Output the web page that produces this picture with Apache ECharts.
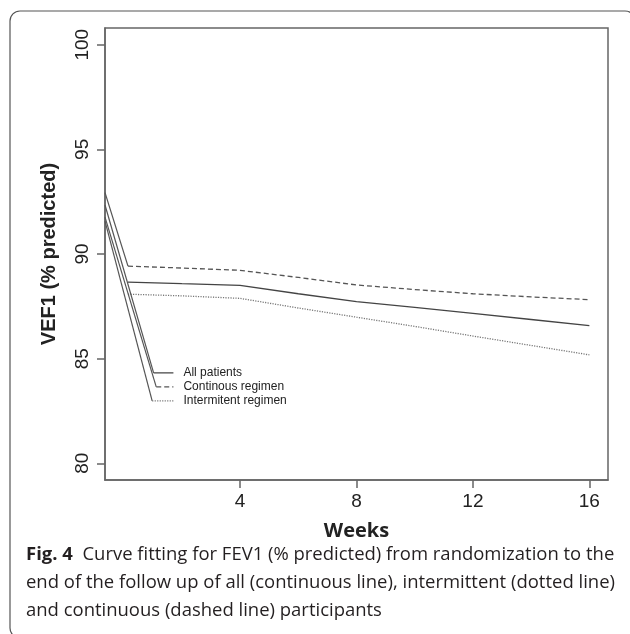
<!DOCTYPE html>
<html>
<head>
<meta charset="utf-8">
<script src="https://cdn.jsdelivr.net/npm/echarts@6/dist/echarts.min.js"></script>
<style>
  html, body { margin: 0; padding: 0; background: #fff; }
  #chart { width: 630px; height: 634px; }
</style>
</head>
<body>
<div id="chart"></div>
<script>
// weeks of follow up and fitted FEV1 (% predicted)
var weeks = [0.15, 2, 4, 6, 8, 10, 12, 14, 16];
var allPatients = [88.66, 88.58, 88.50, 88.10, 87.72, 87.45, 87.16, 86.87, 86.58];
var continuous = [89.42, 89.33, 89.22, 88.88, 88.52, 88.30, 88.10, 87.95, 87.82];
var intermittent = [88.08, 88.00, 87.88, 87.42, 86.98, 86.54, 86.08, 85.63, 85.18];

var xTicks = [4, 8, 12, 16];
var yTicks = [80, 85, 90, 95, 100];

// legend keys drawn inside the plot (week start, week end, level)
var legendNames = ['All patients', 'Continous regimen', 'Intermitent regimen'];
var legendKeyStart = [1.03, 1.12, 0.98];
var legendKeyEnd = [1.71, 1.71, 1.71];
var legendKeyLevel = [84.32, 83.65, 82.98];

// the stray leader lines from the y axis (start levels at the axis)
var leaderStart = [92.34, 91.76, 91.57];
var dashedLeaderStart = 92.93;

var xMin = -0.64, xMax = 16.64;
var yMin = 79.2, yMax = 100.8;

var caption1 = 'Curve fitting for FEV1 (% predicted) from randomization to the';
var caption2 = 'end of the follow up of all (continuous line), intermittent (dotted line)';
var caption3 = 'and continuous (dashed line) participants';

function pairs(xs, ys) {
    return xs.map(function (x, i) { return [x, ys[i]]; });
}

// size the caption font so the second line spans the figure width
var captionFont = '"Open Sans", "Noto Sans", sans-serif';
var ctx = document.createElement('canvas').getContext('2d');
ctx.font = '100px ' + captionFont;
var captionSize = 100 * 589 / ctx.measureText(caption2).width;

var axisFont = 'Liberation Sans, Arial, sans-serif';

var chart = echarts.init(document.getElementById('chart'));

var lineStyles = [
    { color: '#444', width: 1.3, type: 'solid' },
    { color: '#555', width: 1.3, type: [5, 3] },
    { color: '#777', width: 1.3, type: [1.2, 1.3] }
];

var series = [];
var curves = [allPatients, continuous, intermittent];
curves.forEach(function (vals, i) {
    series.push({
        name: legendNames[i],
        type: 'line',
        data: pairs(weeks, vals),
        showSymbol: false,
        symbol: 'none',
        lineStyle: lineStyles[i],
        silent: true
    });
});

// leader from the axis to the start of the continuous curve
series.push({
    type: 'line',
    data: [[xMin, dashedLeaderStart], [weeks[0], continuous[0]]],
    symbol: 'none',
    lineStyle: { color: '#555', width: 1.2 },
    silent: true
});

legendNames.forEach(function (name, i) {
    // leader from the axis down to the legend key
    series.push({
        type: 'line',
        data: [[xMin, leaderStart[i]], [legendKeyStart[i], legendKeyLevel[i]]],
        symbol: 'none',
        lineStyle: { color: '#555', width: 1.2 },
        silent: true
    });
    // legend key with its text
    series.push({
        type: 'line',
        data: [[legendKeyStart[i], legendKeyLevel[i]], [legendKeyEnd[i], legendKeyLevel[i]]],
        symbol: 'none',
        lineStyle: lineStyles[i],
        endLabel: {
            show: true,
            formatter: name,
            distance: 10,
            fontSize: 12,
            fontFamily: axisFont,
            color: '#222'
        },
        silent: true
    });
});

var option = {
    animation: false,
    backgroundColor: '#fff',
    grid: {
        left: 105,
        right: 22,
        top: 28,
        bottom: 154,
        show: true,
        borderColor: '#666',
        borderWidth: 1.5
    },
    xAxis: {
        type: 'value',
        min: xMin,
        max: xMax,
        name: 'Weeks',
        nameLocation: 'middle',
        nameGap: 41,
        nameTextStyle: { fontSize: 20, fontWeight: 'bold', color: '#222', fontFamily: captionFont },
        axisLine: { show: true, onZero: false, lineStyle: { color: '#666', width: 1.5 } },
        axisTick: { show: true, customValues: xTicks, length: 8, lineStyle: { color: '#666', width: 1.5 } },
        axisLabel: { customValues: xTicks, margin: 12, fontSize: 19, color: '#222', fontFamily: axisFont },
        splitLine: { show: false }
    },
    yAxis: {
        type: 'value',
        min: yMin,
        max: yMax,
        name: 'VEF1 (% predicted)',
        nameLocation: 'middle',
        nameRotate: 90,
        nameGap: 46,
        nameTextStyle: { fontSize: 20, fontWeight: 'bold', color: '#222', fontFamily: axisFont },
        axisLine: { show: true, onZero: false, lineStyle: { color: '#666', width: 1.5 } },
        axisTick: { show: true, customValues: yTicks, length: 8, lineStyle: { color: '#666', width: 1.5 } },
        axisLabel: { customValues: yTicks, rotate: 90, margin: 13, fontSize: 19, color: '#222', fontFamily: axisFont },
        splitLine: { show: false }
    },
    graphic: [
        {
            type: 'rect',
            shape: { x: 10, y: 11, width: 625, height: 627, r: 10 },
            style: { fill: 'none', stroke: '#555', lineWidth: 1.2 },
            silent: true
        },
        {
            type: 'text',
            style: {
                x: 26, y: 555,
                text: '{b|Fig. 4}  ' + caption1,
                verticalAlign: 'middle',
                fontSize: captionSize,
                fontFamily: captionFont,
                fill: '#231f20',
                rich: {
                    b: { fontWeight: 'bold', fontSize: captionSize, fontFamily: captionFont, fill: '#231f20' }
                }
            }
        },
        {
            type: 'text',
            style: { x: 26, y: 583, text: caption2, verticalAlign: 'middle', fontSize: captionSize, fontFamily: captionFont, fill: '#231f20' }
        },
        {
            type: 'text',
            style: { x: 26, y: 611, text: caption3, verticalAlign: 'middle', fontSize: captionSize, fontFamily: captionFont, fill: '#231f20' }
        }
    ],
    series: series
};

chart.setOption(option);
</script>
</body>
</html>
